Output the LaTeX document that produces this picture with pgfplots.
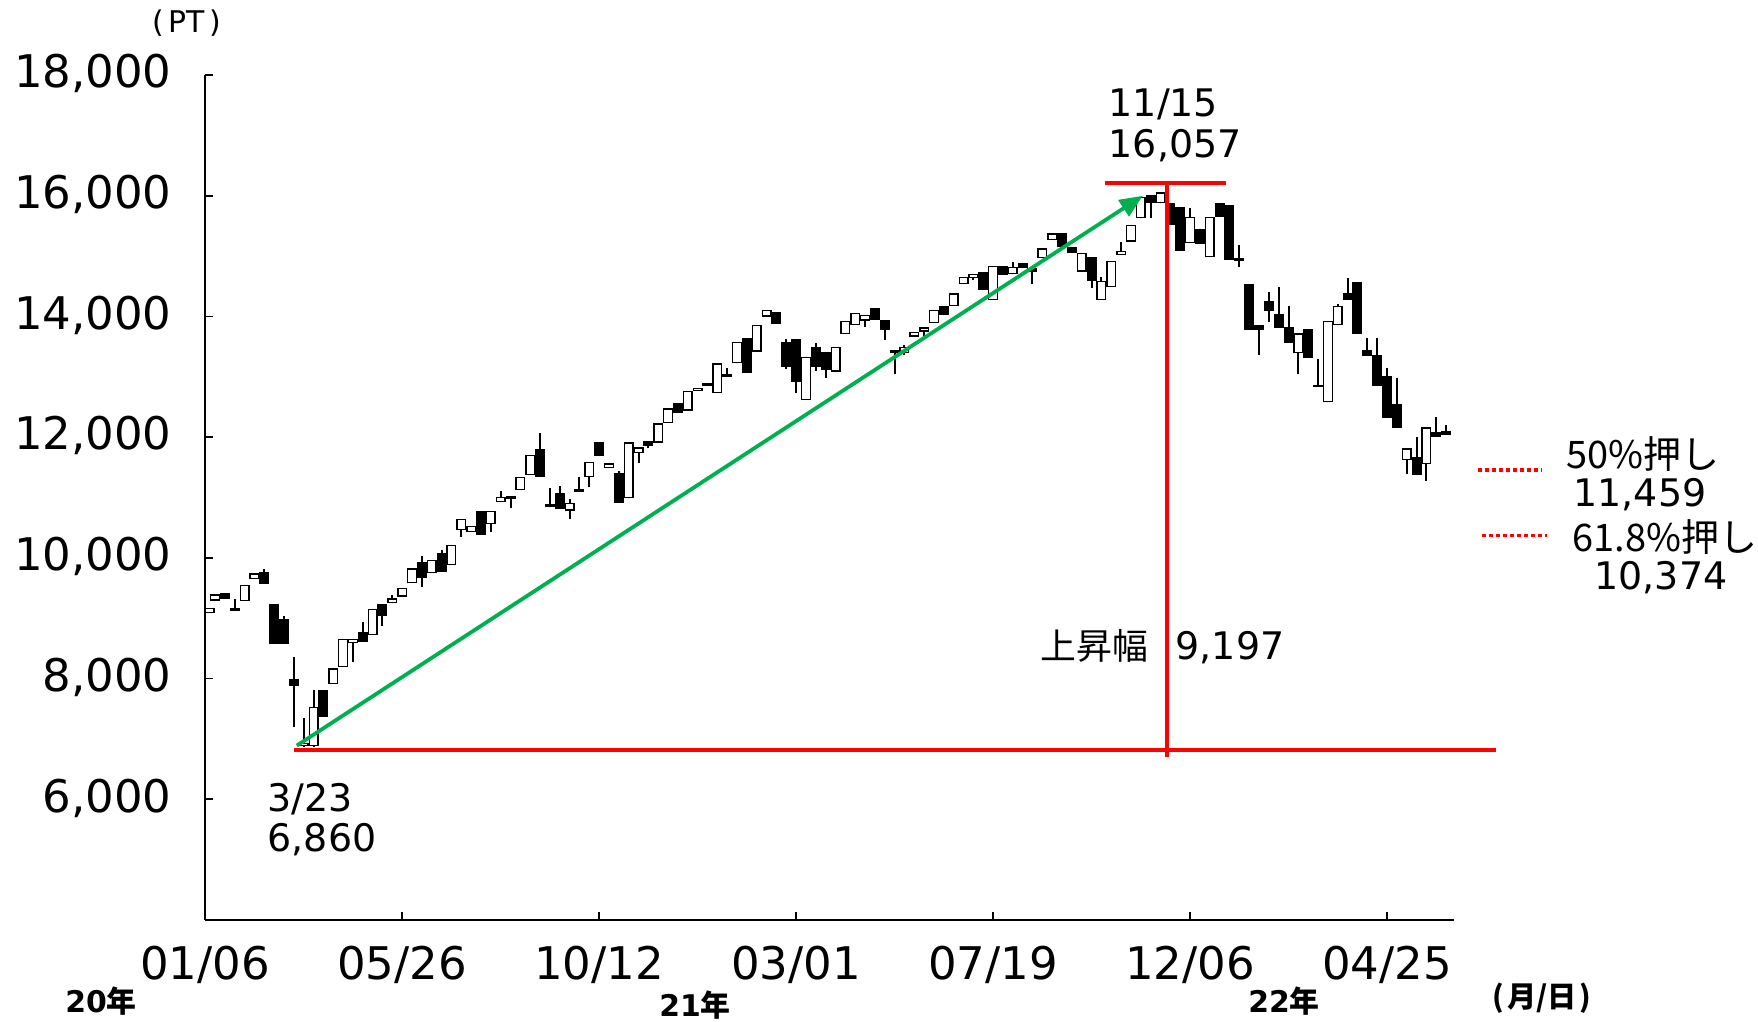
\documentclass[border=0pt]{standalone}
\usepackage{fontspec}
\setmainfont{DejaVu Sans}
\newfontfamily\jp{Noto Sans CJK JP}
\usepackage{pgfplots}
\pgfplotsset{compat=1.18}
\usepackage{pgfplotstable}
\usetikzlibrary{arrows.meta}
\definecolor{grn}{RGB}{0,176,80}

% white (rising) weekly candles: x = week index from 2020-01-06
\pgfplotstableread{
x o c h l
0.45 9082 9175 9175 9082
1 9291 9397 9397 9291
4 9285 9550 9550 9285
5 9645 9745 9745 9645
10 6885 6930 7350 6860
11 6882 7534 7811 6860
13 7910 8170 8170 7910
14 8192 8656 8656 8192
15 8585 8656 8656 8275
17 8722 9153 9153 8722
19 9247 9330 9385 9247
20 9357 9506 9506 9357
21 9579 9828 9828 9579
23 9745 9965 9965 9745
25 9882 10212 10212 9882
26 10462 10644 10644 10351
27 10424 10529 10529 10424
29 10562 10782 10782 10424
30 10921 11014 11113 10921
32 11125 11345 11345 11125
33 11374 11705 11705 11374
37 10782 10915 10976 10639
39 11335 11594 11594 11180
41 11484 11567 11567 11484
43 10987 11915 11915 10987
44 11734 11834 11834 11567
46 11909 12229 12229 11909
47 12229 12478 12478 12229
49 12439 12765 12765 12439
50 12765 12820 12820 12765
52 12727 13224 13224 12727
54 13224 13582 13582 13224
56 13416 13859 13859 13416
57 13997 14108 14108 13997
61 12617 13334 13334 12617
64 13085 13500 13500 13085
65 13710 13925 13925 13710
66 13859 14064 14064 13859
67 13930 14025 14025 13821
71 13390 13500 13520 13370
72 13665 13748 13748 13665
73 13748 13821 13821 13665
74 13887 14108 14108 13887
76 14174 14384 14384 14174
77 14533 14660 14660 14533
78 14633 14704 14704 14600
80 14273 14842 14842 14273
82 14704 14825 14900 14704
85 14964 15130 15130 14964
86 15269 15379 15379 15269
89 14743 15058 15058 14743
91 14273 14594 14660 14273
92 14484 14925 14925 14484
93 15020 15091 15230 15020
94 15241 15517 15517 15241
95 15627 15987 15987 15627
97 15876 16057 16057 15876
100 15213 15655 15793 15213
102 14981 15655 15655 14981
111 13390 13721 13721 13047
114 12578 13925 13925 12578
115 13859 14174 14200 13859
122 11622 11816 11816 11390
124 11550 12163 12163 11279
}\upcandles

% black (falling) weekly candles
\pgfplotstableread{
x o c h l
2 9410 9319 9410 9319
3 9165 9120 9313 9120
6 9762 9568 9810 9568
7 9231 8573 9231 8573
8 8982 8573 9037 8573
9 7992 7877 8363 7203
12 7811 7369 7811 7369
16 8767 8612 8943 8612
18 9231 9037 9231 8871
22 9937 9662 10031 9523
24 10076 9772 10131 9772
28 10782 10380 10782 10380
31 11025 10981 11025 10821
34 11805 11345 12074 11345
35 10888 10838 11153 10838
36 11069 10805 11197 10805
38 11136 11092 11335 11092
40 11915 11694 11915 11694
42 11401 10915 11445 10915
45 11942 11854 11942 11816
48 12561 12406 12561 12406
51 12903 12853 12903 12853
53 13046 13002 13141 13002
55 13648 13068 13648 13068
58 14070 13876 14070 13876
59 13582 13168 13620 13130
60 13621 12919 13621 12727
62 13488 13168 13555 13100
63 13416 13112 13416 12975
68 14147 13942 14147 13942
69 13942 13776 13942 13610
70 13445 13390 13445 13047
75 14174 14025 14174 14025
79 14743 14439 14743 14439
81 14842 14688 14842 14688
83 14881 14798 14881 14798
84 14798 14743 14798 14533
87 15390 15147 15390 15147
88 15147 15048 15147 15048
90 14992 14594 14992 14467
96 16014 15876 16014 15627
98 15876 15517 15876 15517
99 15809 15091 15809 15091
101 15446 15202 15446 15202
103 15876 15655 15876 15655
104 15848 14936 15848 14936
105 14964 14925 15180 14815
106 14533 13776 14533 13776
107 13859 13776 13859 13362
108 14257 14091 14411 13914
109 14036 13810 14483 13810
110 13821 13566 14174 13566
112 13787 13317 13787 13317
113 12865 12827 13301 12827
116 14395 14273 14633 14273
117 14566 13704 14566 13704
118 13445 13350 13638 13350
119 13362 12853 13638 12853
120 13014 12323 13150 12323
121 12550 12147 12975 12147
123 11677 11373 12008 11373
125 12091 12008 12329 12008
126 12102 12036 12200 12036
}\dncandles

\begin{document}
\begin{tikzpicture}
\path[use as bounding box] (0,0) rectangle (175.8mm,102.2mm);
\begin{axis}[
  at={(20.52mm,10.2mm)}, anchor=south west,
  scale only axis, width=124.88mm, height=84.49mm,
  xmin=0, xmax=126.8, ymin=4000, ymax=18000,
  axis lines*=left,
  axis line style={line width=0.25mm, black},
  clip=false,
  tick align=inside,
  major tick length=0.8mm,
  tick style={line width=0.18mm, black},
  xtick={0,20,40,60,80,100,120},
  xticklabels={01/06,05/26,10/12,03/01,07/19,12/06,04/25},
  ytick={6000,8000,10000,12000,14000,16000,18000},
  scaled y ticks=false,
  /pgf/number format/fixed,
  /pgf/number format/assume math mode=true,
  /pgf/number format/1000 sep={,},
  tick label style={font=\fontsize{12.8}{15}\selectfont, inner sep=0pt},
  yticklabel style={anchor=base east, xshift=-3.3mm, yshift=-0.364em},
  xticklabel style={anchor=base, yshift=-6.0mm},
]
% wicks
\addplot[draw=none, mark=none, error bars/.cd, y dir=plus, y explicit, error mark=none,
  error bar style={draw=black, solid, line width=0.2mm}]
  table[x=x, y=l, y error expr=\thisrow{h}-\thisrow{l}] {\upcandles};
\addplot[draw=none, mark=none, error bars/.cd, y dir=plus, y explicit, error mark=none,
  error bar style={draw=black, solid, line width=0.2mm}]
  table[x=x, y=l, y error expr=\thisrow{h}-\thisrow{l}] {\dncandles};
% black bodies
\addplot[draw=none, mark=none, error bars/.cd, y dir=plus, y explicit, error mark=none,
  error bar style={draw=black, solid, line width=1.0mm}]
  table[x=x, y=c, y error expr=\thisrow{o}-\thisrow{c}] {\dncandles};
% white bodies: black frame then white inside
\addplot[draw=none, mark=none, error bars/.cd, y dir=plus, y explicit, error mark=none,
  error bar style={draw=black, solid, line width=1.0mm}]
  table[x=x, y=o, y error expr=\thisrow{c}-\thisrow{o}] {\upcandles};
\addplot[draw=none, mark=none, error bars/.cd, y dir=plus, y explicit, error mark=none,
  error bar style={draw=white, solid, line width=0.72mm, shorten <=0.14mm, shorten >=0.14mm}]
  table[x=x, y=o, y error expr=\thisrow{c}-\thisrow{o}] {\upcandles};
% annotation lines
\addplot[red, line width=0.4mm, mark=none] coordinates {(9,6817) (131.1,6817)};
\addplot[red, line width=0.4mm, mark=none] coordinates {(97.65,6704) (97.65,16207)};
\addplot[red, line width=0.4mm, mark=none] coordinates {(91.4,16207) (103.6,16207)};
\addplot[grn, line width=0.38mm, mark=none, -{Triangle[length=2.3mm,width=1.9mm]}] coordinates {(9.3,6890) (95.2,16000)};
\addplot[red, line width=0.35mm, mark=none, dash pattern=on 0.4mm off 0.3mm] coordinates {(129.2,11459) (135.7,11459)};
\addplot[red, line width=0.35mm, mark=none, dash pattern=on 0.4mm off 0.3mm] coordinates {(129.6,10374) (136.2,10374)};
\end{axis}
\begin{scope}[shift={(0,102.2mm)}, x=0.1mm, y=-0.1mm,
  ann/.style={inner sep=0pt, text height=0.73em, text depth=0pt, font=\fontsize{10.8}{12}\selectfont},
  yr/.style={inner sep=0pt, font=\bfseries\fontsize{8.5}{10}\selectfont}]
\node[inner sep=0pt, font=\fontsize{8.5}{10}\selectfont] at (187,23) {(\hspace{0.15em}PT\hspace{0.15em})};
\node[ann, anchor=west] at (1108,104) {11/15};
\node[ann, anchor=west] at (1108,145) {16,057};
\node[ann, anchor=west] at (267,799) {3/23};
\node[ann, anchor=west] at (267,839) {6,860};
\node[ann, anchor=east, font=\jp\fontsize{10.2}{12}\selectfont] at (1149,647) {上昇幅};
\node[ann, anchor=west] at (1175,647) {9,197};
\node[ann, anchor=west] at (1566,456) {\jp 50\%押し};
\node[ann] at (1640,494) {11,459};
\node[ann, anchor=west] at (1572,539) {\jp 61.8\%押し};
\node[ann] at (1661,577) {10,374};
\node[yr] at (101,1001) {20{\jp\bfseries 年}};
\node[yr] at (695,1005) {21{\jp\bfseries 年}};
\node[yr] at (1284,1001) {22{\jp\bfseries 年}};
\node[inner sep=0pt, font=\jp\bfseries\fontsize{8.3}{9}\selectfont] at (1542,998) {(\hspace{0.1em}月/日\hspace{0.1em})};
\end{scope}
\end{tikzpicture}
\end{document}
